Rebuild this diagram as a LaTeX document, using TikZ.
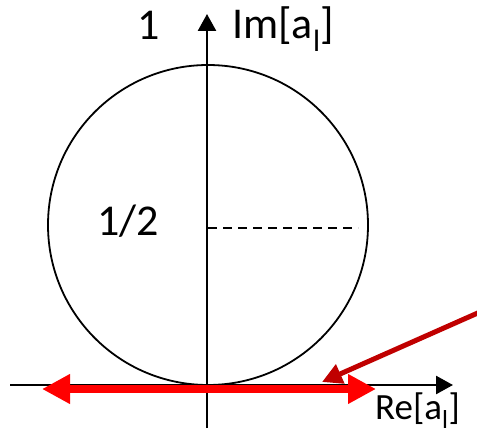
\documentclass[tikz,border=0pt]{standalone}
\usepackage{fontspec}
\setmainfont{Carlito}
\usetikzlibrary{arrows.meta}
\begin{document}
\begin{tikzpicture}[x=1pt,y=-1pt,
  axis/.style={line width=2.6pt,-{Triangle[length=17pt,width=18pt]}},
  lbl/.style={inner sep=0pt,anchor=base west},
  big/.style={font=\fontsize{44}{50}\selectfont},
  mid/.style={font=\fontsize{37}{43}\selectfont},
  redarrow/.style={line width=8pt,draw={rgb,255:red,255;green,0;blue,0},{Triangle[length=28pt,width=28pt]}-{Triangle[length=28pt,width=28pt]}},
  pointer/.style={line width=5pt,draw={rgb,255:red,192;green,0;blue,0},-{Triangle[length=20pt,width=20pt]}}]
\useasboundingbox (0,0) rectangle (477,436);
\coordinate (c) at (208,225);
\draw[line width=1.8pt] (c) circle (160pt);
\coordinate (xs) at (10,385);
\coordinate (xe) at (453,385);
\coordinate (ys) at (207,428);
\coordinate (ye) at (207,14);
\draw[axis] (xs) -- (xe);
\draw[axis] (ys) -- (ye);
\coordinate (d1) at (208,228);
\coordinate (d2) at (358,228);
\draw[line width=1.8pt,dash pattern=on 9pt off 6pt] (d1) -- (d2);
\coordinate (r1) at (42,389);
\coordinate (r2) at (376,389);
\draw[redarrow] (r1) -- (r2);
\coordinate (p1) at (480,312);
\coordinate (p2) at (322,382);
\draw[pointer] (p1) -- (p2);
\node[lbl,big] (one) at (137,40) {1};
\node[lbl,big] (im) at (232,39) {Im[a\textsubscript{l}]};
\node[lbl,big] (half) at (97,235) {1/2};
\node[lbl,mid] (re) at (375,419) {Re[a\textsubscript{l}]};
\end{tikzpicture}
\end{document}
